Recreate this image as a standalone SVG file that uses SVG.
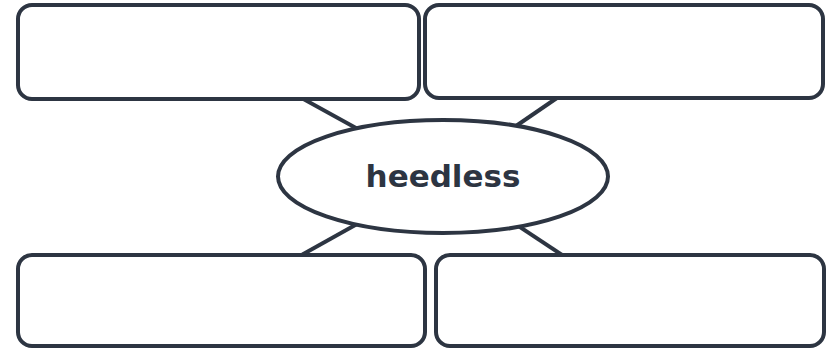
<svg xmlns="http://www.w3.org/2000/svg" width="827" height="349" viewBox="0 0 827 349">
  <style>
    .box { fill: #ffffff; stroke: #2d3542; stroke-width: 4; }
    .conn { stroke: #2d3542; stroke-width: 4; fill: none; }
    .label { font-family: "DejaVu Sans", Verdana, sans-serif; font-weight: bold; font-size: 31px; fill: #2d3542; text-anchor: middle; }
  </style>
  <rect width="827" height="349" fill="#ffffff"/>
  <g id="connectors">
    <line class="conn" x1="218" y1="52" x2="443" y2="176"/>
    <line class="conn" x1="624" y1="52" x2="443" y2="176"/>
    <line class="conn" x1="221" y1="300" x2="443" y2="176"/>
    <line class="conn" x1="630" y1="300" x2="443" y2="176"/>
  </g>
  <g id="box-top-left">
    <rect class="box" x="18" y="5" width="401" height="94" rx="14" ry="14"/>
  </g>
  <g id="box-top-right">
    <rect class="box" x="425" y="5" width="398" height="93" rx="14" ry="14"/>
  </g>
  <g id="box-bottom-left">
    <rect class="box" x="18" y="255" width="407" height="91" rx="14" ry="14"/>
  </g>
  <g id="box-bottom-right">
    <rect class="box" x="436" y="255" width="388" height="91" rx="14" ry="14"/>
  </g>
  <g id="center">
    <ellipse class="box" cx="443" cy="176.5" rx="165" ry="56.5"/>
    <text class="label" x="443" y="187">heedless</text>
  </g>
</svg>
